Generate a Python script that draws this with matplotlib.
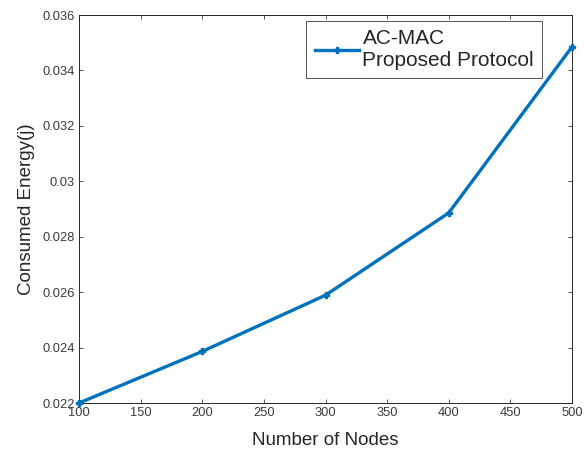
import matplotlib
matplotlib.use("Agg")
import matplotlib.pyplot as plt

# data
nodes = [100, 200, 300, 400, 500]
energy = [0.0220, 0.02386, 0.02589, 0.02886, 0.03485]
series_label = "AC-MAC\nProposed Protocol"

x_ticks = [100, 150, 200, 250, 300, 350, 400, 450, 500]
y_ticks = [0.022, 0.024, 0.026, 0.028, 0.03, 0.032, 0.034, 0.036]
y_tick_labels = ["0.022", "0.024", "0.026", "0.028", "0.03", "0.032", "0.034", "0.036"]

plt.rcParams['font.family'] = ['Liberation Sans', 'DejaVu Sans']

fig = plt.figure(figsize=(5.87, 4.53), dpi=100)
ax = fig.add_axes([79 / 587, 1 - 403 / 453, (572 - 79) / 587, (403 - 15) / 453])

ax.plot(nodes, energy, color='#0072BD', linewidth=2.4, marker='P',
        markersize=5, label=series_label, clip_on=False, zorder=3)

ax.set_xlim(100, 500)
ax.set_ylim(0.022, 0.036)
ax.set_xticks(x_ticks)
ax.set_yticks(y_ticks)
ax.set_yticklabels(y_tick_labels)

ax.tick_params(direction='in', top=True, right=True, length=3, width=0.6,
               labelsize=9.3, colors='#3a3a3a', pad=3)
for s in ax.spines.values():
    s.set_color('#262626')
    s.set_linewidth(0.7)

ax.set_xlabel('Number of Nodes', fontsize=13.5, color='#262626', labelpad=9)
ax.set_ylabel('Consumed Energy(j)', fontsize=13.5, color='#262626', labelpad=5)

# legend box spans roughly x 308-541, y 21-79 px in the reference
leg = ax.legend(loc='upper right', bbox_to_anchor=(0.94, 0.985), fontsize=15,
                frameon=True, fancybox=False, borderpad=0.4, handlelength=2.15,
                handletextpad=0.15, borderaxespad=0)
leg.get_frame().set_edgecolor('#262626')
leg.get_frame().set_linewidth(0.7)
for t in leg.get_texts():
    t.set_color('#262626')

fig.savefig('out.png', dpi=100)
